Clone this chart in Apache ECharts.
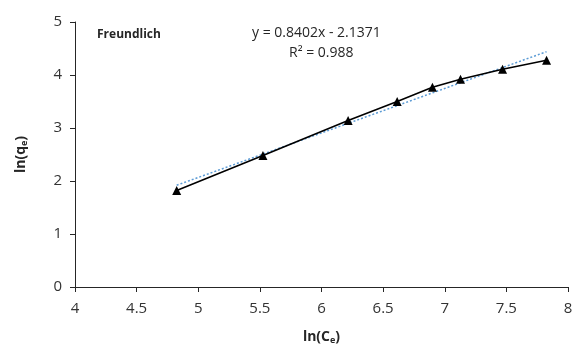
<!DOCTYPE html>
<html>
<head>
<meta charset="utf-8">
<script src="https://cdn.jsdelivr.net/npm/echarts@6/dist/echarts.min.js"></script>
<style>
  html, body { margin: 0; padding: 0; background: #fff; }
  #chart { width: 572px; height: 344px; }
</style>
</head>
<body>
<div id="chart"></div>
<script>
// measured points, ln(Ce) vs ln(qe)
const lnCe = [4.825, 5.525, 6.216, 6.614, 6.90, 7.128, 7.469, 7.826];
const lnQe = [1.82, 2.48, 3.14, 3.50, 3.77, 3.92, 4.11, 4.28];
// linear trendline end points
const trendX = [4.825, 7.826];
const trendY = [1.92, 4.44];
const xTicks = [4, 4.5, 5, 5.5, 6, 6.5, 7, 7.5, 8];
const yTicks = [0, 1, 2, 3, 4, 5];

const font = "'Open Sans', 'Liberation Sans', sans-serif";
const ink = "#262626";
const chart = echarts.init(document.getElementById("chart"));

const nameRich = {
  a: { fontSize: 14, fontWeight: "bold", color: ink, fontFamily: font },
  b: { fontSize: 9, fontWeight: "bold", color: ink, fontFamily: font, verticalAlign: "bottom", padding: [7, 0, 0, 0] }
};

chart.setOption({
  backgroundColor: "#fff",
  animation: false,
  textStyle: { fontFamily: font },
  grid: { left: 75, right: 4, top: 22, bottom: 57, outerBoundsMode: "none" },
  title: {
    text: "Freundlich",
    left: 92, top: 24,
    textStyle: { fontSize: 12, fontWeight: "bold", color: ink, fontFamily: font }
  },
  graphic: [
    {
      type: "text", left: 252, top: 26,
      style: { text: "y = 0.8402x - 2.1371", fontSize: 14, fill: ink, fontFamily: font }
    },
    {
      type: "text", left: 289, top: 46,
      style: { text: "R² = 0.988", fontSize: 14, fill: ink, fontFamily: font }
    }
  ],
  xAxis: {
    type: "value",
    min: xTicks[0], max: xTicks[xTicks.length - 1], interval: 0.5,
    name: "{a|ln(C}{b|e}{a|)}",
    nameLocation: "middle", nameGap: 42,
    nameTextStyle: { rich: nameRich },
    axisLine: { lineStyle: { color: ink, width: 1 } },
    axisTick: { show: true, inside: false, length: 5, lineStyle: { color: ink } },
    axisLabel: { fontSize: 15, color: "#333", margin: 14, fontFamily: font },
    splitLine: { show: false }
  },
  yAxis: {
    type: "value",
    min: yTicks[0], max: yTicks[yTicks.length - 1], interval: 1,
    name: "{a|ln(q}{b|e}{a|)}",
    nameLocation: "middle", nameGap: 46, nameRotate: 90,
    nameTextStyle: { rich: nameRich },
    axisLine: { show: true, lineStyle: { color: ink, width: 1 } },
    axisTick: { show: true, inside: false, length: 5, lineStyle: { color: ink } },
    axisLabel: { fontSize: 15, color: "#333", margin: 13, fontFamily: font },
    splitLine: { show: false }
  },
  series: [
    {
      type: "line",
      data: trendX.map((x, i) => [x, trendY[i]]),
      showSymbol: false,
      lineStyle: { color: "#5b9bd5", width: 1.5, type: [2, 2] },
      z: 1
    },
    {
      type: "line",
      data: lnCe.map((x, i) => [x, lnQe[i]]),
      symbol: "triangle",
      symbolSize: 9,
      itemStyle: { color: "#000" },
      lineStyle: { color: "#000", width: 1.6 },
      z: 2
    }
  ]
});
</script>
</body>
</html>
